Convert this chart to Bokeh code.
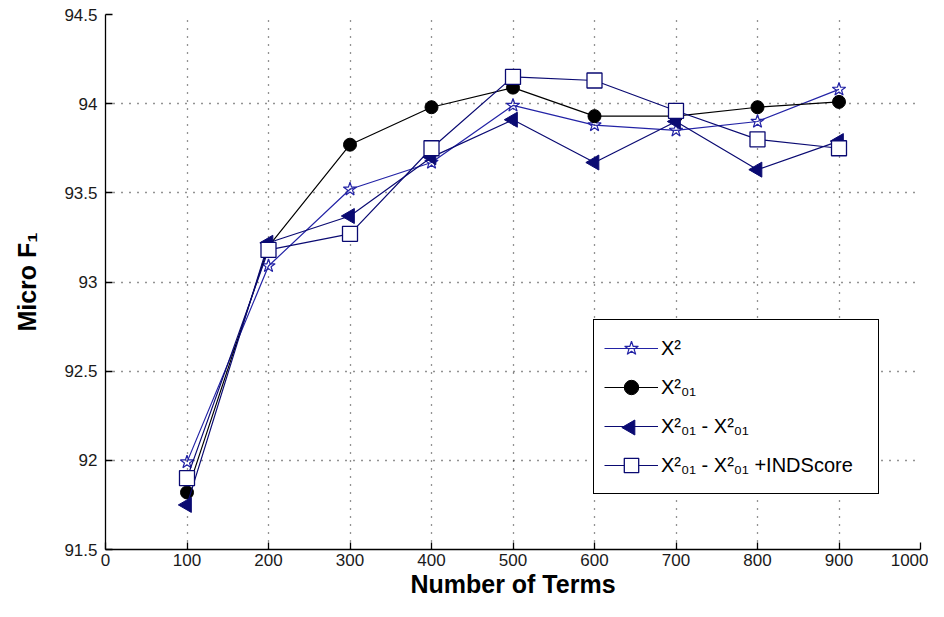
import math
from bokeh.plotting import figure
from bokeh.models import (Range1d, FixedTicker, Legend, LegendItem, BoxAnnotation,
                          CustomJSTickFormatter)
from bokeh.embed import file_html
from bokeh.resources import INLINE

# ---- data ----
terms = [100, 200, 300, 400, 500, 600, 700, 800, 900]
chi2 = [91.99, 93.09, 93.52, 93.67, 93.99, 93.88, 93.85, 93.90, 94.08]
chi2_01 = [91.82, 93.20, 93.77, 93.98, 94.09, 93.93, 93.93, 93.98, 94.01]
chi2_diff = [91.75, 93.22, 93.37, 93.70, 93.91, 93.67, 93.90, 93.63, 93.79]
chi2_diff_ind = [91.90, 93.18, 93.27, 93.75, 94.15, 94.13, 93.96, 93.80, 93.75]

series_labels = ["X²", "X²₀₁", "X²₀₁ - X²₀₁", "X²₀₁ - X²₀₁ +INDScore"]
x_ticks = [0, 100, 200, 300, 400, 500, 600, 700, 800, 900, 1000]
y_ticks = [91.5, 92, 92.5, 93, 93.5, 94, 94.5]
x_title = "Number of Terms"
y_title = "Micro F₁"

BLUE = "#2323a6"
NAVY = "#0a0a72"

W, H = 928, 601
BL, BR, BT, BB = 105, 8, 14, 52
X0, X1, Y0, Y1 = 0, 1000, 91.5, 94.5
FW = W - BL - BR
FH = H - BT - BB


def dx(px):
    return X0 + px / FW * (X1 - X0)


def dy(px):
    return Y0 + px / FH * (Y1 - Y0)


p = figure(width=W, height=H, x_range=Range1d(X0, X1), y_range=Range1d(Y0, Y1),
           output_backend="svg", toolbar_location=None,
           min_border_left=BL, min_border_right=BR, min_border_top=BT, min_border_bottom=BB,
           background_fill_color="white", border_fill_color="white")
p.outline_line_color = None

fmt = CustomJSTickFormatter(code="return tick.toString();")

for ax in p.xaxis:
    ax.ticker = FixedTicker(ticks=x_ticks)
for ax in p.yaxis:
    ax.ticker = FixedTicker(ticks=y_ticks)
    ax.formatter = fmt

for ax in list(p.xaxis) + list(p.yaxis):
    ax.major_tick_in = 7
    ax.major_tick_out = 0
    ax.minor_tick_in = 0
    ax.minor_tick_out = 0
    ax.axis_line_color = "black"
    ax.axis_line_width = 1.3
    ax.major_tick_line_color = "black"
    ax.major_tick_line_width = 1.3
    ax.major_label_text_font = "Liberation Sans"
    ax.major_label_text_font_size = "17px"
    ax.major_label_text_color = "#1a1a1a"
    ax.axis_label_text_font = "Liberation Sans"
    ax.axis_label_text_font_style = "bold"
    ax.axis_label_text_font_size = "25px"
    ax.axis_label_text_color = "black"

p.xaxis.axis_label = x_title
p.yaxis.axis_label = y_title
p.xaxis.major_label_standoff = 4
p.xaxis.axis_label_standoff = 1
p.yaxis.major_label_standoff = 8
p.yaxis.axis_label_standoff = 20

for g in (p.xgrid, p.ygrid):
    g.grid_line_color = "black"
    g.grid_line_dash = "1 7"
    g.grid_line_width = 1.3
    g.grid_line_alpha = 0.85
p.xgrid.ticker = FixedTicker(ticks=x_ticks[1:])
p.ygrid.ticker = FixedTicker(ticks=y_ticks[1:])

# ---- legend geometry (pixels inside the frame) ----
LEG_X, LEG_Y, PAD, ROW, GAP, GW, STD, LW = 488, 55, 10, 36, 3, 54, 3, 207
LEG_W = 2 * PAD + GW + STD + LW
LEG_H = 2 * PAD + 4 * ROW + 3 * GAP

# white legend background drawn above the grid but below the data glyphs
p.add_layout(BoxAnnotation(left=dx(LEG_X), right=dx(LEG_X + LEG_W),
                           bottom=dy(LEG_Y), top=dy(LEG_Y + LEG_H),
                           level="underlay", fill_color="white", fill_alpha=1,
                           line_color=None))

# ---- series ----
l1 = p.line(terms, chi2, line_color=BLUE, line_width=1.2)
s1 = p.scatter(terms, chi2, marker="star", size=14, fill_color=None, line_color=BLUE, line_width=1.2)

l2 = p.line(terms, chi2_01, line_color="black", line_width=1.2)
s2 = p.scatter(terms, chi2_01, marker="circle", size=13, fill_color="black", line_color="black")

l3 = p.line(terms, chi2_diff, line_color=NAVY, line_width=1.2)
s3 = p.scatter(terms, chi2_diff, marker="triangle", angle=math.pi / 2, size=15,
               fill_color=NAVY, line_color=NAVY)

l4 = p.line(terms, chi2_diff_ind, line_color=NAVY, line_width=1.2)
s4 = p.scatter(terms, chi2_diff_ind, marker="square", size=15, fill_color="white",
               line_color=NAVY, line_width=1.3)

# left-pointing triangle for the third legend entry (the legend ignores marker angle)
cx = LEG_X + PAD + GW / 2
cy = LEG_Y + PAD + ROW + GAP + ROW / 2
p.scatter([dx(cx)], [dy(cy)], marker="triangle", angle=math.pi / 2, size=15,
          fill_color=NAVY, line_color=NAVY)

items = [LegendItem(label=series_labels[0], renderers=[l1, s1]),
         LegendItem(label=series_labels[1], renderers=[l2, s2]),
         LegendItem(label=series_labels[2], renderers=[l3]),
         LegendItem(label=series_labels[3], renderers=[l4, s4])]

legend = Legend(items=items, location=(LEG_X, LEG_Y),
                border_line_color="black", border_line_width=1.2, border_line_alpha=1,
                background_fill_color="white", background_fill_alpha=0,
                padding=PAD, spacing=GAP, margin=0,
                label_height=ROW, glyph_height=ROW, glyph_width=GW, label_standoff=STD,
                label_width=LW,
                label_text_font="Liberation Sans", label_text_font_size="20px",
                label_text_color="black")
p.add_layout(legend)

open("out.html", "w").write(file_html(p, INLINE))
